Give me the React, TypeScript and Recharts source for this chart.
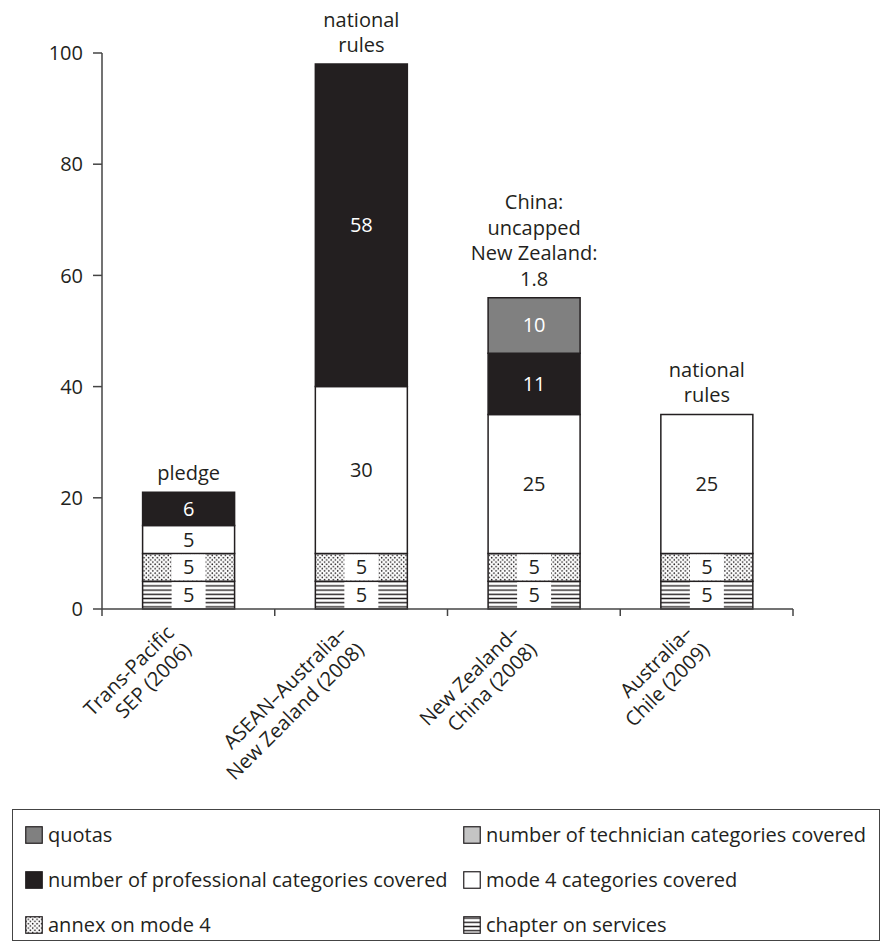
import React from 'react';
import { BarChart, Bar, XAxis, YAxis, Legend, LabelList } from 'recharts';

const categories = [
  'Trans-Pacific\nSEP (2006)',
  'ASEAN–Australia–\nNew Zealand (2008)',
  'New Zealand–\nChina (2008)',
  'Australia–\nChile (2009)',
];
const chapterOnServices = [5, 5, 5, 5];
const annexOnMode4 = [5, 5, 5, 5];
const mode4Categories = [5, 30, 25, 25];
const professionalCategories = [6, 58, 11, 0];
const quotas = [0, 0, 10, 0];
const technicianCategories = [0, 0, 0, 0];
const topNotes = [
  ['pledge'],
  ['national', 'rules'],
  ['China:', 'uncapped', 'New Zealand:', '1.8'],
  ['national', 'rules'],
];
const yTicks = [0, 20, 40, 60, 80, 100];
const categoryEdges = [0, 1, 2, 3, 4];

const INK = '#231f20';
const FONT = '"Open Sans", sans-serif';

const data = categories.map((name, i) => ({
  name,
  edge: i + 0.5,
  services: chapterOnServices[i],
  annex: annexOnMode4[i],
  mode4: mode4Categories[i],
  professional: professionalCategories[i],
  quotas: quotas[i],
  technician: technicianCategories[i],
}));

const stackOrder = ['services', 'annex', 'mode4', 'professional', 'quotas', 'technician'];

// which series sits on top of each column (gets the note above it)
const topKey = data.map((d: any) => {
  let k = stackOrder[0];
  stackOrder.forEach((s) => {
    if (d[s] > 0) k = s;
  });
  return k;
});

// legend reads left column then right column, row by row
const legendRows = [
  [
    { name: 'quotas', fill: '#808080' },
    { name: 'number of technician categories covered', fill: '#c4c4c4' },
  ],
  [
    { name: 'number of professional categories covered', fill: INK },
    { name: 'mode 4 categories covered', fill: '#ffffff' },
  ],
  [
    { name: 'annex on mode 4', fill: 'dots' },
    { name: 'chapter on services', fill: 'lines' },
  ],
];

function PatternDefs({ prefix }: { prefix: string }) {
  return (
    <defs>
      <pattern id={`${prefix}lines`} width="6" height="4.2" patternUnits="userSpaceOnUse">
        <rect width="6" height="4.2" fill="#fff" />
        <rect y="1.4" width="6" height="1.4" fill={INK} />
      </pattern>
      <pattern id={`${prefix}dots`} width="4.4" height="4.4" patternUnits="userSpaceOnUse">
        <rect width="4.4" height="4.4" fill="#fff" />
        <circle cx="1.1" cy="1.1" r="0.8" fill={INK} />
        <circle cx="3.3" cy="3.3" r="0.8" fill={INK} />
      </pattern>
    </defs>
  );
}

function makeInsideLabel(color: string, boxed: boolean) {
  return (props: any) => {
    const { x, y, width, height, value } = props;
    if (!value) return null;
    const cx = x + width / 2;
    const cy = y + height / 2;
    return (
      <g>
        {boxed && <rect x={cx - 17} y={y + 1} width={34} height={height - 2} fill="#fff" />}
        <text x={cx} y={cy + 7} textAnchor="middle" fill={color} fontSize={20} fontFamily={FONT}>
          {value}
        </text>
      </g>
    );
  };
}

// note above the column, drawn only by the series that tops that column
function makeTopNote(key: string) {
  return (props: any) => {
    const { x, y, width, value } = props;
    const idx = categories.indexOf(value);
    if (idx < 0 || topKey[idx] !== key) return null;
    const notes = topNotes[idx] || [];
    const cx = x + width / 2;
    return (
      <text textAnchor="middle" fill={INK} fontSize={20} fontFamily={FONT}>
        {notes.map((l, i) => (
          <tspan key={i} x={cx} y={y - 12 - (notes.length - 1 - i) * 25.5}>
            {l}
          </tspan>
        ))}
      </text>
    );
  };
}

function CategoryTick(props: any) {
  const { x, y, payload } = props;
  const lines = String(payload.value).split('\n');
  const ax = x - 13;
  const ay = y + 9;
  return (
    <text
      transform={`rotate(-45, ${ax}, ${ay})`}
      textAnchor="end"
      fill={INK}
      fontSize={20}
      fontFamily={FONT}
    >
      {lines.map((l, i) => (
        <tspan key={i} x={ax} y={ay + i * 24}>
          {l}
        </tspan>
      ))}
    </text>
  );
}

function LegendIcon({ fill }: { fill: string }) {
  const pid = 'leg';
  let f = fill;
  if (fill === 'dots' || fill === 'lines') f = `url(#${pid}${fill})`;
  return (
    <svg width="18" height="18" style={{ verticalAlign: 'middle', marginRight: 5 }}>
      <PatternDefs prefix={pid} />
      <rect x="0.75" y="0.75" width="16.5" height="16.5" fill={f} stroke={INK} strokeWidth="1.2" />
    </svg>
  );
}

function LegendBox() {
  return (
    <div
      style={{
        boxSizing: 'border-box',
        width: 868,
        height: 132,
        border: '1.5px solid #444',
        padding: '12px 0 0 12px',
        fontFamily: FONT,
        fontSize: 20,
        color: INK,
      }}
    >
      {legendRows.map((row, r) => (
        <div key={r} style={{ display: 'flex', height: 45, alignItems: 'flex-start' }}>
          {row.map((item, c) => (
            <div
              key={c}
              style={{ width: c === 0 ? 442 : 420, whiteSpace: 'nowrap', lineHeight: '22px' }}
            >
              <LegendIcon fill={item.fill} />
              <span style={{ verticalAlign: 'middle' }}>{item.name}</span>
            </div>
          ))}
        </div>
      ))}
    </div>
  );
}

const series = [
  { key: 'services', fill: 'url(#barlines)', text: INK, boxed: true },
  { key: 'annex', fill: 'url(#bardots)', text: INK, boxed: true },
  { key: 'mode4', fill: '#ffffff', text: INK, boxed: false },
  { key: 'professional', fill: INK, text: '#ffffff', boxed: false },
  { key: 'quotas', fill: '#808080', text: '#ffffff', boxed: false },
  { key: 'technician', fill: '#c4c4c4', text: INK, boxed: false },
];

export default function App() {
  return (
    <div style={{ position: 'absolute', left: 0, top: 0, width: 883, height: 947, background: '#fff' }}>
      <BarChart
        width={883}
        height={947}
        data={data}
        margin={{ top: 53, right: 90, left: 0, bottom: 6 }}
        barCategoryGap="23.5%"
      >
        <PatternDefs prefix="bar" />
        <XAxis
          xAxisId="bCat"
          dataKey="name"
          interval={0}
          height={192}
          axisLine={false}
          tickLine={false}
          tick={<CategoryTick />}
        />
        <XAxis
          xAxisId="aEdges"
          type="number"
          dataKey="edge"
          domain={[0, 4]}
          ticks={categoryEdges}
          height={8}
          tickFormatter={() => ''}
          tickSize={7}
          stroke="#444"
          strokeWidth={1.5}
          tickLine={{ stroke: '#444', strokeWidth: 1.5 }}
        />
        <YAxis
          domain={[0, 100]}
          ticks={yTicks}
          width={102}
          tickSize={9}
          tickMargin={10}
          stroke="#444"
          strokeWidth={1.5}
          tick={{ fill: INK, fontSize: 20, fontFamily: FONT }}
        />
        <Legend verticalAlign="bottom" wrapperStyle={{ left: 12, width: 868 }} content={() => <LegendBox />} />
        {series.map((s) => (
          <Bar
            key={s.key}
            xAxisId="bCat"
            dataKey={s.key}
            stackId="a"
            fill={s.fill}
            stroke={INK}
            strokeWidth={1.5}
            isAnimationActive={false}
          >
            <LabelList dataKey={s.key} content={makeInsideLabel(s.text, s.boxed)} />
            <LabelList dataKey="name" content={makeTopNote(s.key)} />
          </Bar>
        ))}
      </BarChart>
    </div>
  );
}
